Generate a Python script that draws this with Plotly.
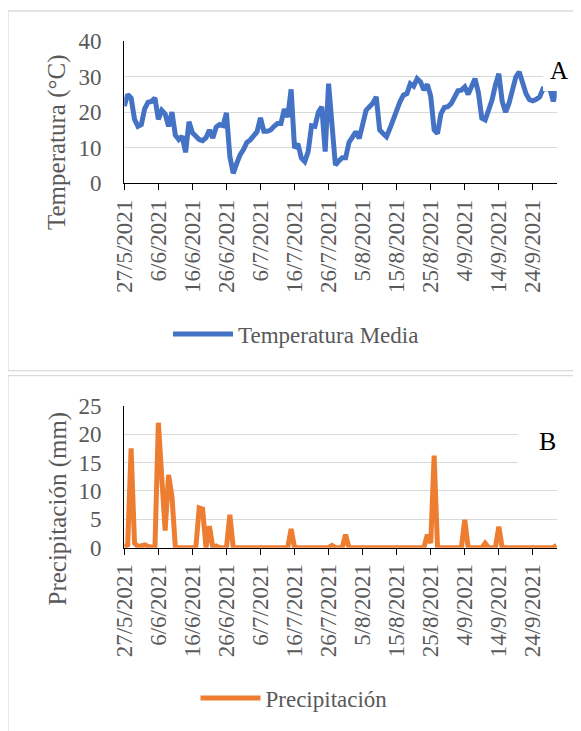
import pandas as pd
import plotly.graph_objects as go

# ---------------- data ----------------
start_date = "2021-05-27"
n_days = 128
dates = pd.date_range(start_date, periods=n_days, freq="D")

temperatura_media = [
    21.7, 25.0, 24.0, 18.0, 16.0, 16.5, 21.0, 22.8, 23.0, 24.0,
    18.0, 20.5, 19.5, 16.0, 20.0, 13.5, 12.3, 13.2, 8.7, 17.3,
    14.2, 13.0, 12.3, 12.0, 12.8, 15.0, 12.7, 15.8, 16.5, 16.2,
    19.8, 7.5, 2.8, 5.5, 8.0, 9.5, 11.5, 12.2, 13.5, 14.5,
    18.4, 14.6, 14.6, 15.0, 16.0, 16.8, 16.8, 20.9, 18.6, 26.4,
    9.9, 11.1, 7.1, 6.1, 8.9, 16.2, 16.0, 20.0, 21.5, 8.9,
    28.0, 16.5, 5.1, 6.3, 7.2, 7.2, 11.5, 13.0, 14.5, 12.6,
    17.0, 20.5, 21.5, 22.5, 24.3, 15.0, 14.0, 13.1, 15.4, 18.2,
    21.0, 23.0, 24.8, 25.2, 28.0, 27.3, 29.4, 28.5, 26.2, 27.8,
    24.5, 15.0, 14.0, 19.5, 21.3, 21.5, 22.4, 24.5, 26.0, 26.2,
    27.1, 25.0, 27.6, 29.4, 25.5, 18.3, 17.8, 20.5, 23.4, 27.6,
    30.8, 23.0, 20.0, 22.5, 26.6, 29.9, 31.3, 28.5, 25.2, 23.5,
    23.2, 23.6, 24.3, 26.6, 26.6, 26.6, 23.0, 26.6,
]

precipitacion = [
    0.2, 0.5, 17.5, 0.8, 0.2, 0.3, 0.5, 0.2, 0.0, 0.0,
    22.0, 12.5, 3.0, 12.8, 9.0, 0.0, 0.0, 0.0, 0.0, 0.0,
    0.0, 0.0, 7.0, 6.8, 0.0, 3.8, 0.0, 0.3, 0.0, 0.0,
    0.0, 5.8, 0.0, 0.0, 0.0, 0.0, 0.0, 0.0, 0.0, 0.0,
    0.0, 0.0, 0.0, 0.0, 0.0, 0.0, 0.0, 0.0, 0.0, 3.3,
    0.0, 0.0, 0.0, 0.0, 0.0, 0.0, 0.0, 0.0, 0.0, 0.0,
    0.0, 0.4, 0.0, 0.0, 0.0, 2.3, 0.0, 0.0, 0.0, 0.0,
    0.0, 0.0, 0.0, 0.0, 0.0, 0.0, 0.0, 0.0, 0.0, 0.0,
    0.0, 0.0, 0.0, 0.0, 0.0, 0.0, 0.0, 0.0, 0.0, 2.3,
    0.8, 16.2, 0.0, 0.0, 0.0, 0.0, 0.0, 0.0, 0.0, 0.0,
    4.9, 0.0, 0.0, 0.0, 0.0, 0.0, 0.8, 0.0, 0.0, 0.0,
    3.7, 0.0, 0.0, 0.0, 0.0, 0.0, 0.0, 0.0, 0.0, 0.0,
    0.0, 0.0, 0.0, 0.0, 0.0, 0.0, 0.0, 0.4,
]

tick_dates = ["2021-05-27", "2021-06-06", "2021-06-16", "2021-06-26", "2021-07-06",
              "2021-07-16", "2021-07-26", "2021-08-05", "2021-08-15", "2021-08-25",
              "2021-09-04", "2021-09-14", "2021-09-24"]
tick_labels = ["27/5/2021", "6/6/2021", "16/6/2021", "26/6/2021", "6/7/2021",
               "16/7/2021", "26/7/2021", "5/8/2021", "15/8/2021", "25/8/2021",
               "4/9/2021", "14/9/2021", "24/9/2021"]

temp_ticks = [0, 10, 20, 30, 40]
prec_ticks = [0, 5, 10, 15, 20, 25]

# ---------------- layout helpers ----------------
W, H = 581, 731
OFF = 8  # page body margin offset
def px(x):
    return (x - OFF) / W
def py(y):
    return 1 - (y - OFF) / H

FONT = "Liberation Serif"
GRAY = "#595959"
GRID = "#D9D9D9"
BLUE = "#4472C4"
ORANGE = "#ED7D31"

fig = go.Figure()
fig.add_trace(go.Scatter(x=dates, y=temperatura_media, mode="lines",
                         name="Temperatura Media", showlegend=True,
                         line=dict(color=BLUE, width=5),
                         xaxis="x", yaxis="y", legend="legend"))
fig.add_trace(go.Scatter(x=dates, y=precipitacion, mode="lines",
                         name="Precipitación", showlegend=True,
                         line=dict(color=ORANGE, width=5),
                         xaxis="x2", yaxis="y2", legend="legend2"))

x_range = [dates[0], dates[-1]]

def xaxis_cfg(anchor):
    return dict(domain=[px(124.3), px(556.7)], anchor=anchor, type="date",
                range=x_range, tickmode="array", tickvals=tick_dates,
                ticktext=tick_labels, tickangle=-90, automargin=False,
                ticks="outside", ticklen=6, tickwidth=1.3, tickcolor="black",
                showline=True, linecolor="black", linewidth=1.3,
                showgrid=False, zeroline=False, layer="below traces",
                tickfont=dict(family=FONT, size=23, color=GRAY))

def yaxis_cfg(anchor, dom, rng, tv):
    return dict(domain=dom, anchor=anchor, range=rng, tickmode="array",
                tickvals=tv, ticks="", showline=True, linecolor="black",
                linewidth=1.3, showgrid=True, gridcolor=GRID, gridwidth=1.3,
                zeroline=False, layer="below traces", ticklabelstandoff=17,
                automargin=False,
                tickfont=dict(family=FONT, size=23, color=GRAY))

frame = dict(type="rect", xref="paper", yref="paper", line=dict(color=GRID, width=1.3),
             fillcolor="rgba(0,0,0,0)", layer="below")
cover = dict(type="rect", xref="paper", yref="paper", line=dict(width=0),
             fillcolor="white", layer="above")

fig.update_layout(
    width=W, height=H, autosize=False,
    margin=dict(l=0, r=0, t=0, b=0, pad=0, autoexpand=False),
    paper_bgcolor="white", plot_bgcolor="white", showlegend=True,
    font=dict(family=FONT, color=GRAY),
    xaxis=xaxis_cfg("y"),
    yaxis=yaxis_cfg("x", [py(183.3), py(41)], [0, 40], temp_ticks),
    xaxis2=xaxis_cfg("y2"),
    yaxis2=yaxis_cfg("x2", [py(547.7), py(405.7)], [0, 25], prec_ticks),
    legend=dict(x=px(296), y=py(334), xanchor="center", yanchor="middle",
                orientation="h", itemwidth=60, bgcolor="rgba(0,0,0,0)",
                font=dict(family=FONT, size=23, color=GRAY)),
    legend2=dict(x=px(294), y=py(698), xanchor="center", yanchor="middle",
                 orientation="h", itemwidth=60, bgcolor="rgba(0,0,0,0)",
                 font=dict(family=FONT, size=23, color=GRAY)),
    shapes=[
        dict(frame, x0=px(8), x1=1.05, y0=py(370.7), y1=py(11)),
        dict(frame, x0=px(8), x1=1.05, y0=-0.05, y1=py(375.7)),
        dict(cover, x0=px(543), x1=1.0, y0=py(91), y1=py(46)),
        dict(cover, x0=px(518), x1=1.0, y0=py(478), y1=py(415)),
    ],
    annotations=[
        dict(text="Temperatura (°C)", x=px(57.5), y=py(142.5), xref="paper", yref="paper",
             textangle=-90, showarrow=False, xanchor="center", yanchor="middle",
             font=dict(family=FONT, size=25, color=GRAY)),
        dict(text="Precipitación (mm)", x=px(57.5), y=py(509), xref="paper", yref="paper",
             textangle=-90, showarrow=False, xanchor="center", yanchor="middle",
             font=dict(family=FONT, size=25, color=GRAY)),
        dict(text="A", x=px(558.5), y=py(70), xref="paper", yref="paper",
             showarrow=False, xanchor="center", yanchor="middle",
             font=dict(family=FONT, size=25, color="black")),
        dict(text="B", x=px(547), y=py(441), xref="paper", yref="paper",
             showarrow=False, xanchor="center", yanchor="middle",
             font=dict(family=FONT, size=26, color="black")),
    ],
)

fig.write_html("out.html")
